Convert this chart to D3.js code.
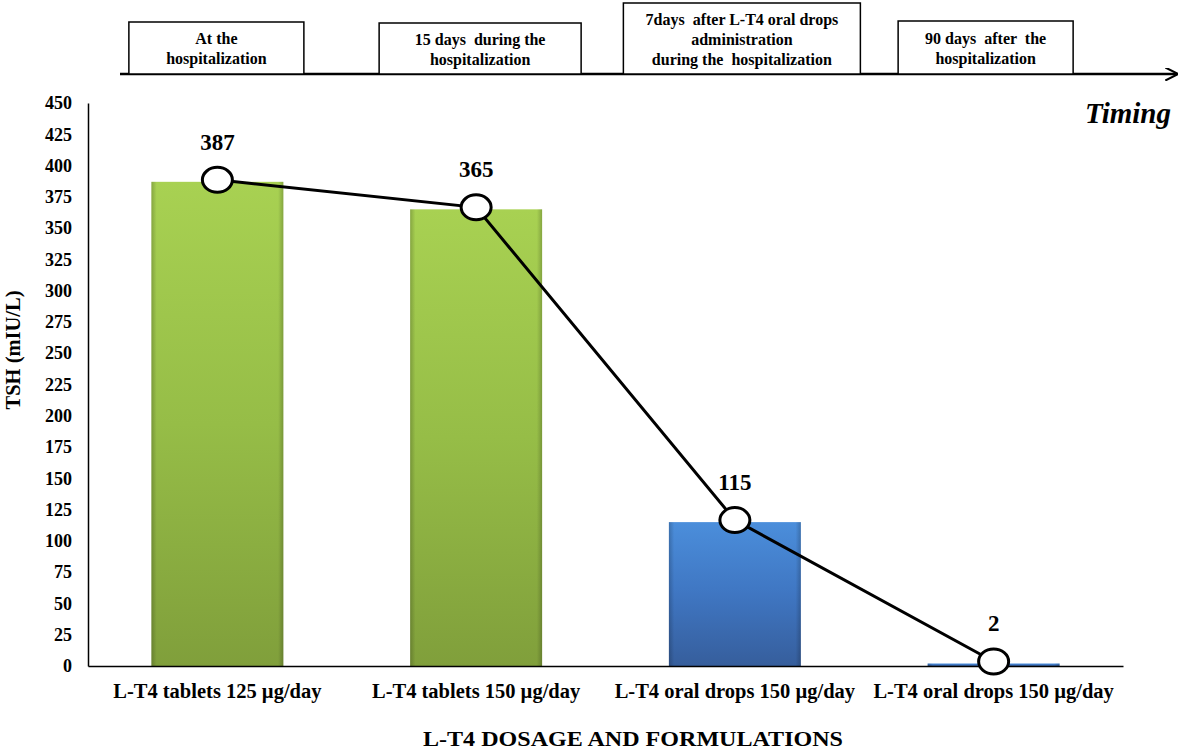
<!DOCTYPE html>
<html>
<head>
<meta charset="utf-8">
<script src="https://cdn.jsdelivr.net/npm/d3@7"></script>
<style>
  body { margin: 0; background: #fff; }
  svg text { font-family: "Liberation Serif", "Times New Roman", "DejaVu Serif", serif !important; font-weight: bold; fill: #000; }
</style>
</head>
<body>
<svg width="1192" height="753"></svg>
<script>
// data
var categories = ["L-T4 tablets 125 \u00b5g/day", "L-T4 tablets 150 \u00b5g/day",
                  "L-T4 oral drops 150 \u00b5g/day", "L-T4 oral drops 150 \u00b5g/day"];
var tsh = [387, 365, 115, 2];
var formulation = ["tablets", "tablets", "drops", "drops"];
var timing = [
  ["At the", "hospitalization"],
  ["15 days  during the", "hospitalization"],
  ["7days  after L-T4 oral drops", "administration", "during the  hospitalization"],
  ["90 days  after  the", "hospitalization"]
];
var yTicks = d3.range(0, 451, 25);

var svg = d3.select("svg");
var margin = {left: 88, top: 103, right: 69, bottom: 87};
var W = 1192, H = 753;

var x = d3.scaleBand().domain(d3.range(categories.length))
    .range([margin.left, W - margin.right]).paddingInner(0.49).paddingOuter(0.245);
var y = d3.scaleLinear().domain([0, 450]).range([H - margin.bottom, margin.top]);
var cx = function(d, i){ return x(i) + x.bandwidth() / 2; };

// gradients
var defs = svg.append("defs");
var grads = {
  tablets: ["#a8d152", "#96bd47", "#809f3b"],
  drops:   ["#4b8edb", "#3f76c2", "#365e9c"]
};
Object.keys(grads).forEach(function(k){
  var g = defs.append("linearGradient").attr("id", "g_" + k)
    .attr("x1", 0).attr("y1", 0).attr("x2", 0).attr("y2", 1);
  g.append("stop").attr("offset", "0%").attr("stop-color", grads[k][0]);
  g.append("stop").attr("offset", "50%").attr("stop-color", grads[k][1]);
  g.append("stop").attr("offset", "100%").attr("stop-color", grads[k][2]);
  var e = defs.append("linearGradient").attr("id", "e_" + k);
  e.append("stop").attr("offset", "0%").attr("stop-color", "#000").attr("stop-opacity", 0.2);
  e.append("stop").attr("offset", "4%").attr("stop-color", "#000").attr("stop-opacity", 0);
  e.append("stop").attr("offset", "96%").attr("stop-color", "#000").attr("stop-opacity", 0);
  e.append("stop").attr("offset", "100%").attr("stop-color", "#000").attr("stop-opacity", 0.2);
});

// bars
svg.selectAll("rect.bar").data(tsh).enter().append("rect")
  .attr("class", "bar")
  .attr("x", function(d, i){ return x(i); })
  .attr("y", function(d){ return y(d); })
  .attr("width", x.bandwidth())
  .attr("height", function(d){ return y(0) - y(d); })
  .attr("fill", function(d, i){ return "url(#g_" + formulation[i] + ")"; });
svg.selectAll("rect.edge").data(tsh).enter().append("rect")
  .attr("class", "edge")
  .attr("x", function(d, i){ return x(i); })
  .attr("y", function(d){ return y(d); })
  .attr("width", x.bandwidth())
  .attr("height", function(d){ return y(0) - y(d); })
  .attr("fill", function(d, i){ return "url(#e_" + formulation[i] + ")"; });

// axes
var yAxis = d3.axisLeft(y).tickValues(yTicks).tickSize(0).tickPadding(16);
var gy = svg.append("g").attr("transform", "translate(" + margin.left + ",0)").call(yAxis);
gy.select(".domain").attr("stroke", "#000").attr("stroke-width", 1.5);
gy.selectAll("text").attr("font-size", 18);

var xAxis = d3.axisBottom(x).tickFormat(function(i){ return categories[i]; }).tickSize(0).tickPadding(17);
var gx = svg.append("g").attr("transform", "translate(0," + y(0) + ")").call(xAxis);
gx.select(".domain").attr("stroke", "#000").attr("stroke-width", 1.5);
gx.selectAll("text").attr("font-size", 20.5);

// axis titles
svg.append("text").attr("transform", "translate(20,350) rotate(-90)")
  .attr("text-anchor", "middle").attr("font-size", 20.5).text("TSH (mIU/L)");
svg.append("text").attr("x", 633).attr("y", 746)
  .attr("text-anchor", "middle").attr("font-size", 22)
  .attr("textLength", 420).attr("lengthAdjust", "spacingAndGlyphs")
  .text("L-T4 DOSAGE AND FORMULATIONS");

// line with markers
var py = function(d){ return y(d) - 2; };
var line = d3.line().x(function(d, i){ return cx(d, i); }).y(py);
svg.append("path").datum(tsh).attr("d", line)
  .attr("fill", "none").attr("stroke", "#000").attr("stroke-width", 3);
svg.selectAll("ellipse.pt").data(tsh).enter().append("ellipse")
  .attr("class", "pt")
  .attr("cx", cx).attr("cy", py)
  .attr("rx", 15).attr("ry", 12.5)
  .attr("fill", "#fff").attr("stroke", "#000").attr("stroke-width", 3);
svg.selectAll("text.val").data(tsh).enter().append("text")
  .attr("class", "val")
  .attr("x", cx).attr("y", function(d){ return py(d) - 30; })
  .attr("text-anchor", "middle").attr("font-size", 23).text(function(d){ return d; });

// timing arrow
var tlY = 74;
defs.append("marker").attr("id", "arrow").attr("viewBox", "0 0 10 10")
  .attr("refX", 9).attr("refY", 5).attr("markerWidth", 13).attr("markerHeight", 13)
  .attr("markerUnits", "userSpaceOnUse").attr("orient", "auto")
  .append("path").attr("d", "M0,0 L10,5 L0,10").attr("fill", "none").attr("stroke", "#000").attr("stroke-width", 1.6);
svg.append("line").attr("x1", 120).attr("x2", 1177).attr("y1", tlY).attr("y2", tlY)
  .attr("stroke", "#000").attr("stroke-width", 2.5).attr("marker-end", "url(#arrow)");

// timing boxes (layout only)
var boxTop = [22, 23, 3, 21];
var boxW = [175, 202, 237, 175];
var boxShift = [-1, 4, 7, -8];
var tg = svg.selectAll("g.tbox").data(timing).enter().append("g").attr("class", "tbox");
tg.each(function(lines, i){
  var g = d3.select(this);
  var c = cx(null, i) + boxShift[i];
  var top = boxTop[i], h = tlY - top, w = boxW[i], lh = 20;
  g.append("rect").attr("x", c - w / 2).attr("y", top).attr("width", w).attr("height", h)
    .attr("fill", "#fff").attr("stroke", "#000").attr("stroke-width", 1.5);
  var txt = g.append("text").attr("text-anchor", "middle").attr("font-size", 16)
    .attr("xml:space", "preserve").style("white-space", "pre");
  var start = top + (h - lh * (lines.length - 1)) / 2 + 6;
  lines.forEach(function(l, k){
    txt.append("tspan").attr("x", c).attr("y", start + k * lh).text(l);
  });
});

svg.append("text").attr("x", 1171).attr("y", 123).attr("text-anchor", "end")
  .attr("font-size", 29).attr("font-style", "italic").text("Timing");
</script>
</body>
</html>
